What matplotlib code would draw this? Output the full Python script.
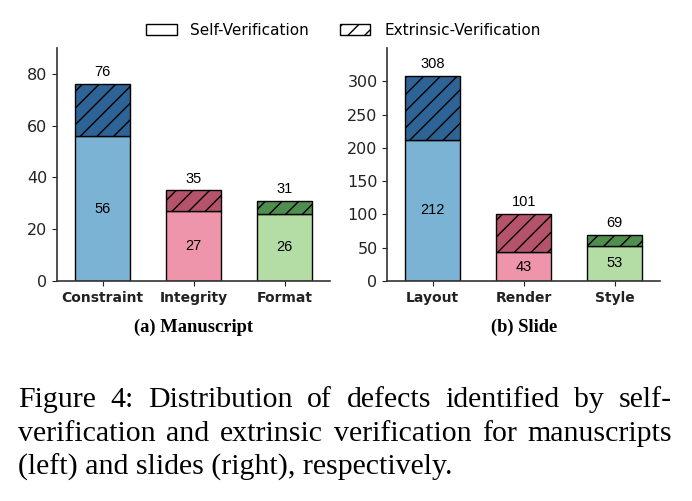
import matplotlib
matplotlib.use("Agg")
import matplotlib.pyplot as plt
from matplotlib.patches import Patch

# data
MANU_CATS = ["Constraint", "Integrity", "Format"]
MANU_SELF = [56, 27, 26]
MANU_TOTAL = [76, 35, 31]

SLIDE_CATS = ["Layout", "Render", "Style"]
SLIDE_SELF = [212, 43, 53]
SLIDE_TOTAL = [308, 101, 69]

SELF_COLORS = ["#7AB3D3", "#EF95AB", "#B4DDA6"]
EXT_COLORS = ["#2E6395", "#B5536A", "#4F8E4E"]

CAPTION = [
    "Figure 4:  Distribution of defects identified by self-",
    "verification and extrinsic verification for manuscripts",
    "(left) and slides (right), respectively.",
]

plt.rcParams["font.family"] = ["DejaVu Sans"]
plt.rcParams["hatch.linewidth"] = 1.0


def draw_panel(ax, cats, self_vals, totals, ymax, yticks):
    x = list(range(len(cats)))
    ext_vals = [t - s for t, s in zip(totals, self_vals)]
    ax.bar(x, self_vals, width=0.6, color=SELF_COLORS, edgecolor="black", linewidth=1.0)
    ax.bar(x, ext_vals, width=0.6, bottom=self_vals, color=EXT_COLORS,
           edgecolor="black", linewidth=1.0, hatch="//")
    for xi, s, t in zip(x, self_vals, totals):
        ax.text(xi, s / 2, str(s), ha="center", va="center", fontsize=10.5,
                family="Liberation Sans")
        ax.annotate(str(t), (xi, t), xytext=(0, 3.5), textcoords="offset points",
                    ha="center", va="bottom", fontsize=10.5, family="Liberation Sans")
    ax.set_xlim(-0.5, 2.5)
    ax.set_ylim(0, ymax)
    ax.set_yticks(yticks)
    ax.set_xticks(x, cats, fontsize=10, fontweight="bold")
    ax.tick_params(axis="y", labelsize=11.5, colors="#222222")
    ax.tick_params(axis="x", colors="#222222")
    for side in ("top", "right"):
        ax.spines[side].set_visible(False)
    for side in ("left", "bottom"):
        ax.spines[side].set_color("#333333")
        ax.spines[side].set_linewidth(1.2)


def justify_line(fig, renderer, text, x0, x1, y, **kw):
    words = text.split()
    widths = []
    for w in words:
        t = fig.text(0, 0, w, **kw)
        bb = t.get_window_extent(renderer)
        widths.append(bb.width / fig.bbox.width)
        t.remove()
    gap = (x1 - x0 - sum(widths)) / (len(words) - 1)
    pos = x0
    for w, wd in zip(words, widths):
        fig.text(pos, y, w, ha="left", va="baseline", **kw)
        pos += wd + gap


fig = plt.figure(figsize=(6.92, 5.01), dpi=100)
ax1 = fig.add_axes([0.0828, 0.4391, 0.394, 0.4651])
ax2 = fig.add_axes([0.5597, 0.4391, 0.394, 0.4651])

draw_panel(ax1, MANU_CATS, MANU_SELF, MANU_TOTAL, 90, [0, 20, 40, 60, 80])
draw_panel(ax2, SLIDE_CATS, SLIDE_SELF, SLIDE_TOTAL, 350, [0, 50, 100, 150, 200, 250, 300])

handles = [
    Patch(facecolor="white", edgecolor="black", label="Self-Verification"),
    Patch(facecolor="white", edgecolor="black", hatch="//", label="Extrinsic-Verification"),
]
fig.legend(handles=handles, loc="center", bbox_to_anchor=(0.496, 0.94), ncol=2,
           frameon=False, fontsize=11, handlelength=2.0, handletextpad=0.9,
           columnspacing=2.0)

fig.text(0.279, 0.347, "(a) Manuscript", ha="center", va="center",
         family="Liberation Serif", fontweight="bold", fontsize=13.3)
fig.text(0.757, 0.347, "(b) Slide", ha="center", va="center",
         family="Liberation Serif", fontweight="bold", fontsize=13.3)

renderer = fig.canvas.get_renderer()
cap_kw = dict(family="Liberation Serif", fontsize=21.5)
x_left, x_right = 18 / 692, 672 / 692
baselines = [1 - 407 / 501, 1 - 441 / 501, 1 - 475 / 501]
justify_line(fig, renderer, CAPTION[0], x_left, x_right, baselines[0], **cap_kw)
justify_line(fig, renderer, CAPTION[1], x_left, x_right, baselines[1], **cap_kw)
fig.text(x_left, baselines[2], CAPTION[2], ha="left", va="baseline", **cap_kw)

fig.savefig("out.png", dpi=100)
